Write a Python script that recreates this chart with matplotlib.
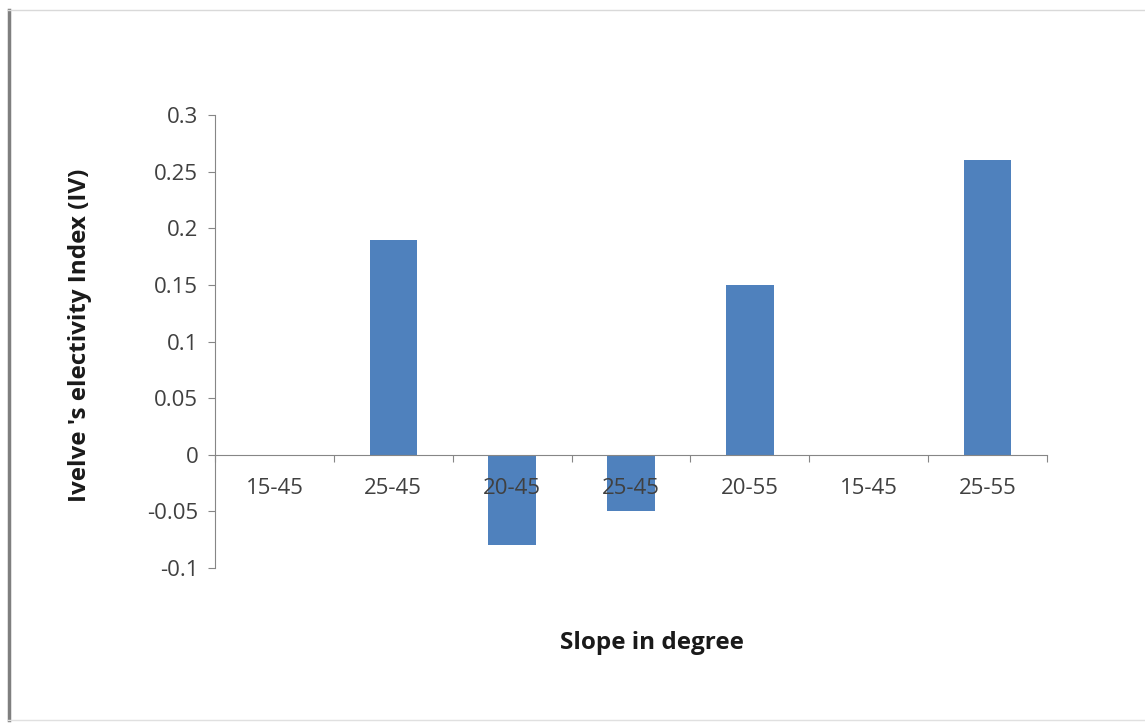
import matplotlib
matplotlib.use("Agg")
import matplotlib.pyplot as plt
from matplotlib.lines import Line2D
import numpy as np

categories = ["15-45", "25-45", "20-45", "25-45", "20-55", "15-45", "25-55"]
values = [0.0, 0.19, -0.08, -0.05, 0.15, 0.0, 0.26]
yticks = [-0.1, -0.05, 0, 0.05, 0.1, 0.15, 0.2, 0.25, 0.3]
ytick_labels = ["-0.1", "-0.05", "0", "0.05", "0.1", "0.15", "0.2", "0.25", "0.3"]

plt.rcParams['font.family'] = ['Open Sans', 'DejaVu Sans']

fig = plt.figure(figsize=(11.45, 7.24), dpi=100)
ax = fig.add_axes([215/1145, 1-568/724, (1047-215)/1145, (568-115)/724])

x = np.arange(len(categories))
ax.bar(x, values, width=0.4, color="#4F81BD", zorder=1)
ax.set_axisbelow(False)

ax.set_xlim(-0.5, len(categories) - 0.5)
ax.set_ylim(-0.1, 0.3)

axis_col = "#868686"
for s in ["top", "right"]:
    ax.spines[s].set_visible(False)
ax.spines["bottom"].set_position(("data", 0))
ax.spines["bottom"].set_color(axis_col)
ax.spines["left"].set_color(axis_col)
ax.spines["bottom"].set_zorder(3)

ax.set_yticks(yticks)
ax.set_yticklabels(ytick_labels)
ax.tick_params(axis="y", direction="out", length=5, color=axis_col,
               labelsize=16, labelcolor="#404040", pad=7)

ax.set_xticks(np.arange(len(categories) + 1) - 0.5)
ax.set_xticklabels([])
ax.tick_params(axis="x", which="major", direction="out", length=5, color=axis_col)
ax.set_xticks(x, minor=True)
ax.set_xticklabels(categories, minor=True)
ax.tick_params(axis="x", which="minor", length=0, labelsize=16,
               labelcolor="#404040", pad=17)
for lab in ax.get_xticklabels(minor=True):
    lab.set_zorder(5)

fig.text(80/1145, 1-335/724, "Ivelve 's electivity Index (IV)", rotation=90,
         ha="center", va="center", fontsize=17.5, fontweight="bold", color="#1a1a1a")
fig.text(652/1145, 1-643/724, "Slope in degree", ha="center", va="center",
         fontsize=17.5, fontweight="bold", color="#1a1a1a")

# frame lines of the original picture
fig.add_artist(Line2D([8.5/1145, 8.5/1145], [1-10/724, 1-720/724], color="#7f7f7f", lw=2.5,
                      transform=fig.transFigure))
fig.add_artist(Line2D([8/1145, 1.0], [1-10/724, 1-10/724], color="#d9d9d9", lw=1,
                      transform=fig.transFigure))
fig.add_artist(Line2D([8/1145, 1.0], [1-720/724, 1-720/724], color="#e0e0e0", lw=1,
                      transform=fig.transFigure))

fig.savefig("out.png", dpi=100)
